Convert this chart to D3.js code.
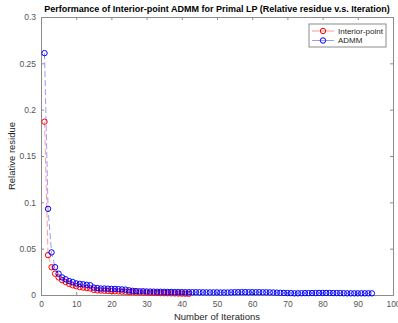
<!DOCTYPE html>
<html>
<head>
<meta charset="utf-8">
<script src="https://cdn.jsdelivr.net/npm/d3@7"></script>
<style>
  body { margin: 0; background: #fff; }
  svg { font-family: "Liberation Sans", Arial, sans-serif; }
</style>
</head>
<body>
<div id="chart"></div>
<script>
const interiorPoint = [
  0.187, 0.043, 0.030, 0.023, 0.019, 0.016, 0.014, 0.012, 0.0105, 0.0095,
  0.0085, 0.008, 0.0075, 0.007, 0.0055, 0.005, 0.0048, 0.0046, 0.0044, 0.0042,
  0.004, 0.0038, 0.0036, 0.0034, 0.0032, 0.003, 0.0028, 0.0027, 0.0026, 0.0025,
  0.0024, 0.0023, 0.0022, 0.0021, 0.002, 0.0019, 0.0018, 0.0017, 0.0016, 0.0015,
  0.0014, 0.0013
];
const admm = [
  0.261, 0.093, 0.046, 0.030, 0.023, 0.019, 0.017, 0.015, 0.014, 0.0125,
  0.012, 0.0115, 0.011, 0.0105, 0.008, 0.0075, 0.007, 0.007, 0.0068, 0.0066,
  0.0065, 0.0063, 0.006, 0.0058, 0.005, 0.0045, 0.0042, 0.004, 0.004, 0.0038,
  0.0037, 0.0036, 0.0035, 0.0035, 0.0034, 0.0033, 0.0033, 0.0032, 0.0032, 0.0031,
  0.003, 0.003, 0.003, 0.003, 0.0029, 0.0029, 0.0028, 0.0028, 0.0028, 0.0028,
  0.0027, 0.0027, 0.0027, 0.0028, 0.003, 0.003, 0.0031, 0.0031, 0.003, 0.003,
  0.003, 0.003, 0.0029, 0.0029, 0.0028, 0.0027, 0.0025, 0.0024, 0.0022, 0.0021,
  0.002, 0.0018, 0.0018, 0.0019, 0.002, 0.002, 0.0021, 0.0021, 0.0022, 0.0022,
  0.0022, 0.0022, 0.0021, 0.0021, 0.002, 0.0019, 0.0018, 0.0018, 0.0018, 0.0018,
  0.0018, 0.0018, 0.0018, 0.0018
];
const xTicks = [0, 10, 20, 30, 40, 50, 60, 70, 80, 90, 100];
const yTicks = [0, 0.05, 0.1, 0.15, 0.2, 0.25, 0.3];
const seriesNames = ["Interior-point", "ADMM"];
const seriesColors = ["#ff0000", "#0000ff"];

const width = 398, height = 323;
const margin = { top: 17, right: 5, bottom: 28, left: 41 };

const svg = d3.select("#chart").append("svg")
  .attr("width", width)
  .attr("height", height);

const x = d3.scaleLinear().domain([0, 100]).range([margin.left, width - margin.right]);
const y = d3.scaleLinear().domain([0, 0.3]).range([height - margin.bottom, margin.top]);

// axes with ticks inward, box on
const xAxis = svg.append("g")
  .attr("transform", `translate(0,${y(0)})`)
  .call(d3.axisBottom(x).tickValues(xTicks).tickSize(-3).tickPadding(6).tickFormat(d3.format("d")));
const xTop = svg.append("g")
  .attr("transform", `translate(0,${y(0.3)})`)
  .call(d3.axisTop(x).tickValues(xTicks).tickSize(-3).tickFormat(""));
const yAxis = svg.append("g")
  .attr("transform", `translate(${x(0)},0)`)
  .call(d3.axisLeft(y).tickValues(yTicks).tickSize(-3).tickPadding(5).tickFormat(d => d === 0 ? "0" : String(d)));
const yRight = svg.append("g")
  .attr("transform", `translate(${x(100)},0)`)
  .call(d3.axisRight(y).tickValues(yTicks).tickSize(-3).tickFormat(""));

[xAxis, xTop, yAxis, yRight].forEach(g => {
  g.select(".domain").attr("stroke", "#8c8c8c").attr("stroke-width", 1);
  g.selectAll(".tick line").attr("stroke", "#8c8c8c");
  g.selectAll(".tick text").attr("fill", "#555").style("font-size", "8.5px")
    .style("font-family", "Liberation Sans, Arial, sans-serif");
});

const line = d3.line()
  .x((d, i) => x(i + 1))
  .y(d => y(d));

[interiorPoint, admm].forEach((data, k) => {
  svg.append("path")
    .datum(data)
    .attr("fill", "none")
    .attr("stroke", seriesColors[k])
    .attr("stroke-opacity", 0.4)
    .attr("stroke-width", 1)
    .attr("stroke-dasharray", "6,3")
    .attr("d", line);
  svg.append("g").selectAll("circle")
    .data(data)
    .join("circle")
    .attr("cx", (d, i) => x(i + 1))
    .attr("cy", d => y(d))
    .attr("r", 2.7)
    .attr("fill", "none")
    .attr("stroke", seriesColors[k])
    .attr("stroke-width", 1);
});

// title and labels
svg.append("text")
  .attr("x", (x(0) + x(100)) / 2)
  .attr("y", 12)
  .attr("text-anchor", "middle")
  .style("font-size", "9px")
  .style("font-weight", "bold")
  .attr("fill", "#000")
  .text("Performance of Interior-point ADMM for Primal LP (Relative residue v.s. Iteration)");

svg.append("text")
  .attr("x", (x(0) + x(100)) / 2)
  .attr("y", 320)
  .attr("text-anchor", "middle")
  .style("font-size", "9.5px")
  .attr("fill", "#262626")
  .text("Number of Iterations");

svg.append("text")
  .attr("transform", `translate(15,${(y(0) + y(0.3)) / 2}) rotate(-90)`)
  .attr("text-anchor", "middle")
  .style("font-size", "9.5px")
  .attr("fill", "#262626")
  .text("Relative residue");

// legend
const legend = svg.append("g").attr("transform", "translate(309,24)");
legend.append("rect")
  .attr("width", 77).attr("height", 23)
  .attr("fill", "#fff")
  .attr("stroke", "#8c8c8c");
seriesNames.forEach((name, k) => {
  const row = legend.append("g").attr("transform", `translate(0,${7 + k * 9.5})`);
  row.append("line")
    .attr("x1", 3).attr("x2", 25)
    .attr("stroke", seriesColors[k]).attr("stroke-opacity", 0.4);
  row.append("circle")
    .attr("cx", 14).attr("r", 2.7)
    .attr("fill", "none").attr("stroke", seriesColors[k]);
  row.append("text")
    .attr("x", 29).attr("dy", "0.35em")
    .style("font-size", "8px")
    .attr("fill", "#262626")
    .text(name);
});
</script>
</body>
</html>
